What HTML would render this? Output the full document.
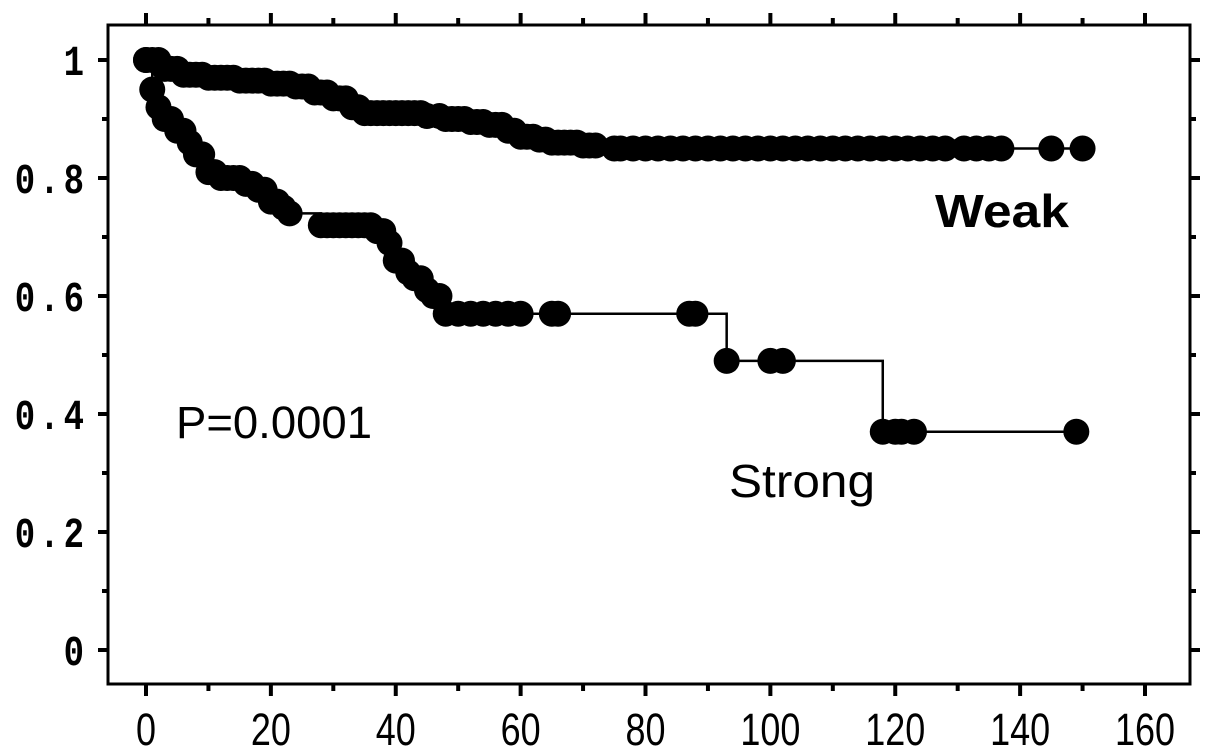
<!DOCTYPE html>
<html><head><meta charset="utf-8"><style>
html,body{margin:0;padding:0;background:#fff;}
svg{display:block;}
text{font-family:"Liberation Sans",sans-serif;fill:#000;}
.tick{font-family:"Liberation Mono",monospace;font-size:34px;font-weight:bold;}
</style></head><body>
<svg id="chart" width="1205" height="750" viewBox="0 0 1205 750" xmlns="http://www.w3.org/2000/svg">
<g id="axes"></g>
<g id="series"></g>
<text x="935" y="227" font-size="46" font-weight="bold" textLength="134" lengthAdjust="spacingAndGlyphs">Weak</text>
<text x="729" y="497" font-size="46" textLength="146" lengthAdjust="spacingAndGlyphs">Strong</text>
<text x="176" y="438" font-size="45" textLength="196" lengthAdjust="spacingAndGlyphs">P=0.0001</text>
</svg>
<script>
const xTicks = [0,20,40,60,80,100,120,140,160];
const yTicks = [0,0.2,0.4,0.6,0.8,1];
const yTickLabels = ["0","0.2","0.4","0.6","0.8","1"];
const weakStepTimes = [0,3,6,10,15,20,24,27,30,33,35,45,48,52,55,58,60,63,65,70,75,150];
const weakStepVals  = [1,0.985,0.975,0.97,0.965,0.96,0.955,0.945,0.935,0.92,0.91,0.905,0.90,0.895,0.89,0.88,0.87,0.865,0.86,0.855,0.85,0.85];
const weakCensor = [0,1,2,3,4,5,6,7,8,9,10,11,12,13,14,15,16,17,18,19,20,21,22,23,24,25,26,27,28,29,30,31,32,33,34,35,36,37,38,39,40,41,42,43,44,45,47,48,49,50,51,52,53,54,55,56,57,58,59,60,61,62,63,64,65,66,67,68,69,70,71,72,75,76,78,80,82,84,86,88,90,92,94,96,98,100,102,104,106,108,110,112,114,116,118,120,122,124,126,128,131,133,135,137,145,150];
const strongStepTimes = [0,1,2,3,5,7,8,10,12,16,18,20,22,23,28,37,39,40,42,43,45,46,48,93,118,150];
const strongStepVals  = [1,0.95,0.92,0.90,0.88,0.86,0.84,0.81,0.80,0.79,0.78,0.76,0.75,0.74,0.72,0.71,0.69,0.66,0.64,0.63,0.61,0.60,0.57,0.49,0.37,0.37];
const strongCensor = [0,1,2,3,4,5,6,7,8,9,10,11,12,13,14,15,16,17,18,19,20,21,22,23,28,29,30,31,32,33,34,35,36,37,38,39,40,41,42,43,44,45,46,47,48,50,52,54,56,58,60,65,66,87,88,93,100,102,118,120,121,123,149];

const NS="http://www.w3.org/2000/svg";
const X = t => 146 + t*(1145-146)/160;
const Y = v => 650 - v*590;
function mk(tag, attrs, parent){const e=document.createElementNS(NS,tag);for(const k in attrs)e.setAttribute(k,attrs[k]);parent.appendChild(e);return e;}
const axes=document.getElementById('axes'), series=document.getElementById('series');
const L=108,R=1190,T=25,B=684;
const frame=mk('rect',{x:L,y:T,width:R-L,height:B-T,fill:'none',stroke:'#000','stroke-width':3},axes);


for(let t=0;t<=160;t+=10){
  const major=t%20===0, len=major?12:7;
  const a=mk('line',{x1:X(t),x2:X(t),y1:B,y2:B+len,stroke:'#000','stroke-width':4},axes);
  
  
  const b=mk('line',{x1:X(t),x2:X(t),y1:T,y2:T-len,stroke:'#000','stroke-width':4},axes);
  
  
}
xTicks.forEach(t=>{
  const tx=mk('text',{x:X(t),y:0,'text-anchor':'middle','font-size':36,transform:'translate(0,745) scale(1,1.25)'},axes);
  tx.textContent=t;
  
  
});
for(let i=0;i<=10;i++){
  const v=i*0.1, major=i%2===0, len=major?10:6;
  const a=mk('line',{x1:L,x2:L-len,y1:Y(v),y2:Y(v),stroke:'#000','stroke-width':4},axes);
  
  
  const b=mk('line',{x1:R,x2:R+len,y1:Y(v),y2:Y(v),stroke:'#000','stroke-width':4},axes);
  
  
}
yTicks.forEach((v,i)=>{
  const tx=mk('text',{x:88,y:0,'text-anchor':'end','class':'tick','letter-spacing':'4',transform:'translate(0,'+(Y(v)+15)+') scale(1,1.25)'},axes);
  tx.textContent=yTickLabels[i];
  
  
});
function sAt(times,vals,t){let v=vals[0];for(let i=0;i<times.length;i++){if(times[i]<=t)v=vals[i];}return v;}
function draw(times,vals,cens,name){
  let d='M'+X(times[0])+','+Y(vals[0]);
  for(let i=1;i<times.length;i++){d+='H'+X(times[i])+'V'+Y(vals[i]);}
  const p=mk('path',{d:d,fill:'none',stroke:'#000','stroke-width':2.5},series);
  
  
  cens.forEach(t=>{
    const c=mk('circle',{cx:X(t),cy:Y(sAt(times,vals,t)),r:13,fill:'#000'},series);
    
    
  });
}
draw(weakStepTimes,weakStepVals,weakCensor,'weak');
draw(strongStepTimes,strongStepVals,strongCensor,'strong');
</script>
</body></html>
